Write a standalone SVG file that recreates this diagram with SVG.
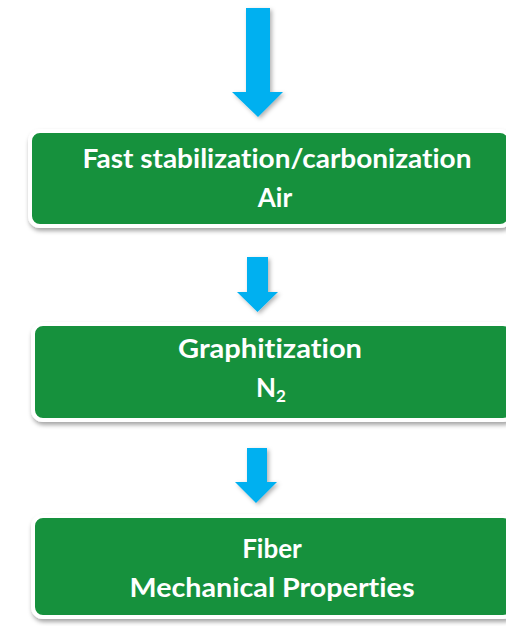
<svg xmlns="http://www.w3.org/2000/svg" width="506" height="626" viewBox="0 0 506 626">
<style>
.box{fill:#17913c;stroke:#ffffff;stroke-width:4;filter:url(#sh)}
.arr{fill:#00b0f0;filter:url(#sh2)}
.t{fill:#ffffff;font-family:Lato,"Open Sans",sans-serif;font-weight:bold;font-size:26px;text-anchor:middle;font-variant-ligatures:none}
</style>
<defs>
<filter id="sh" x="-10%" y="-20%" width="120%" height="150%">
<feDropShadow dx="1" dy="3" stdDeviation="2" flood-color="#000" flood-opacity="0.35"/>
</filter>
<filter id="sh2" x="-50%" y="-20%" width="200%" height="150%">
<feDropShadow dx="2" dy="2" stdDeviation="2" flood-color="#000" flood-opacity="0.3"/>
</filter>
</defs>
<rect width="506" height="626" fill="#ffffff"/>
<g id="connectors">
<polygon class="arr" points="246,8 270,8 270,92 283,92 258,117 232,92 246,92"/>
<polygon class="arr" points="247,257 268,257 268,292 278,292 257.5,312 237,292 247,292"/>
<polygon class="arr" points="247,448 267,448 267,482 277,482 256,503 235,482 247,482"/>
</g>
<g id="node1">
<rect class="box" x="30" y="131" width="480" height="95" rx="10"/>
<text class="t" x="277" y="168" textLength="389" lengthAdjust="spacingAndGlyphs">Fast stabilization/carbonization</text>
<text class="t" x="275" y="207">Air</text>
</g>
<g id="node2">
<rect class="box" x="33" y="324" width="480" height="96" rx="10"/>
<text class="t" x="270" y="358" textLength="184" lengthAdjust="spacingAndGlyphs">Graphitization</text>
<text class="t" x="271" y="397">N<tspan font-size="17" dy="5">2</tspan></text>
</g>
<g id="node3">
<rect class="box" x="33" y="516" width="480" height="101" rx="10"/>
<text class="t" x="272" y="558">Fiber</text>
<text class="t" x="272" y="597" textLength="285" lengthAdjust="spacingAndGlyphs">Mechanical Properties</text>
</g>
</svg>
